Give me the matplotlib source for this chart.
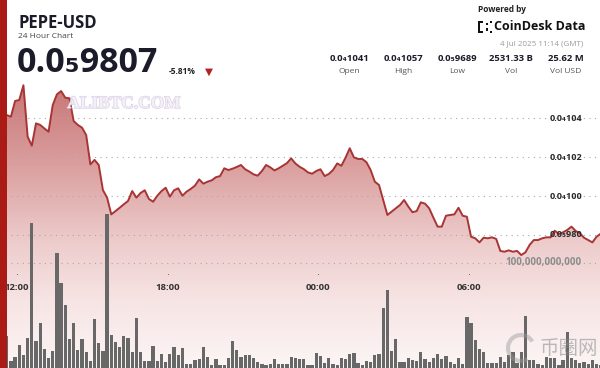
import numpy as np
import matplotlib
matplotlib.use("Agg")
import matplotlib.pyplot as plt
from matplotlib.patches import Rectangle, Arc
from matplotlib import transforms
import matplotlib.patheffects as pe

# ---------------- data ----------------
symbol = "PEPE-USD"
subtitle = "24 Hour Chart"
last_price = "0.0₅9807"
change_pct = "-5.81%"
stat_values = ["0.0₄1041", "0.0₄1057", "0.0₅9689", "2531.33 B", "25.62 M"]
stat_labels = ["Open", "High", "Low", "Vol", "Vol USD"]
timestamp = "4 Jul 2025 11:14 (GMT)"

price_ticks = [1.04e-5, 1.02e-5, 1.00e-5, 0.98e-5]
price_tick_labels = ["0.0₄104", "0.0₄102", "0.0₄100", "0.0₅980"]
vol_tick = 100.0  # billions
vol_tick_label = "100,000,000,000"
time_ticks = [0, 6, 12, 18]  # hours after 12:00
time_tick_labels = ["12:00", "18:00", "00:00", "06:00"]

# price in units of 1e-7 USD, one point every 10 minutes
price_e7 = [
    104.17, 104.08, 104.89, 104.94, 105.70, 103.06, 102.59, 103.74, 103.66, 103.48,
    103.31, 104.68, 105.23, 105.40, 105.06, 105.03, 103.86, 103.66, 103.52, 103.14,
    101.63, 101.86, 101.60, 100.31, 99.92, 99.06, 99.23, 99.40, 99.58, 99.75,
    100.26, 99.92, 100.16, 100.30, 99.85, 99.71, 100.02, 100.26, 100.43, 99.97,
    100.30, 100.40, 100.02, 100.23, 100.37, 100.54, 100.86, 100.64, 100.74, 100.81,
    100.97, 101.03, 101.43, 101.34, 101.41, 101.50, 101.60, 101.38, 101.26, 101.12,
    101.05, 101.29, 101.60, 101.48, 101.32, 101.43, 101.56, 101.70, 101.94, 101.68,
    101.51, 101.39, 101.22, 101.15, 101.29, 101.38, 101.03, 101.14, 101.34, 101.68,
    101.56, 101.98, 102.46, 101.99, 101.91, 101.91, 101.74, 101.34, 100.74, 100.57,
    99.80, 99.03, 99.20, 99.37, 99.54, 99.80, 99.46, 99.17, 99.23, 99.68,
    99.61, 99.37, 98.89, 98.43, 98.43, 98.99, 99.03, 99.06, 99.40, 98.99,
    98.94, 97.91, 97.83, 97.62, 97.86, 97.83, 97.88, 97.80, 97.18, 97.14,
    97.21, 97.14, 97.18, 96.97, 97.11, 97.49, 97.74, 97.74, 97.83, 97.88,
    97.88, 98.22, 98.05, 98.14, 98.26, 98.43, 98.21, 98.09, 97.86, 97.74,
    97.62, 97.91, 98.07,
]

# volume in billions of PEPE per 10 minutes
volume_bn = [
    30.5, 6.7, 10.5, 21.9, 12.4, 28.6, 138.0, 25.7, 42.9, 18.1,
    9.5, 16.2, 109.5, 81.0, 60.0, 27.6, 42.9, 17.1, 27.6, 15.2,
    6.7, 46.7, 23.8, 16.2, 146.7, 31.4, 24.8, 20.0, 30.5, 28.6,
    15.2, 47.6, 15.2, 6.7, 6.7, 21.0, 6.7, 13.3, 5.7, 13.3,
    20.0, 12.4, 19.0, 3.8, 3.8, 7.6, 8.6, 20.0, 10.5, 2.9,
    8.6, 2.9, 2.9, 9.5, 25.7, 17.1, 10.5, 12.4, 12.4, 9.5,
    5.7, 3.8, 2.9, 3.8, 8.6, 3.8, 3.8, 3.8, 10.5, 9.5,
    8.6, 8.6, 2.9, 2.9, 14.3, 11.4, 4.8, 9.5, 3.8, 2.9,
    9.5, 8.6, 13.3, 14.3, 4.8, 2.9, 6.7, 5.7, 12.4, 13.3,
    57.1, 74.3, 16.2, 27.6, 5.7, 5.7, 9.5, 7.6, 6.7, 15.2,
    8.6, 5.7, 9.5, 13.3, 8.6, 11.4, 5.7, 3.8, 9.5, 3.8,
    48.6, 42.9, 26.7, 18.1, 15.2, 4.8, 4.8, 4.8, 10.5, 5.7,
    12.4, 15.2, 4.8, 15.2, 49.5, 7.6, 7.6, 3.8, 2.9, 10.5,
    9.5, 9.5, 2.9, 7.6, 34.3, 9.5, 7.6, 4.8, 5.7, 3.8,
    7.6, 3.8, 2.9,
]

# ---------------- figure ----------------
W, H = 600, 368
fig = plt.figure(figsize=(6.0, 3.68), dpi=100)
fig.patch.set_facecolor("white")

FONT = ["Open Sans", "DejaVu Sans"]

n = len(price_e7)
t = -0.41 + np.arange(n) / 6.0
prices = np.array(price_e7) * 1e-7
vols = np.array(volume_bn)

px_per_h = 25.1
x0_px = 17.0
xlo, xhi = -x0_px / px_per_h, (W - x0_px) / px_per_h
# price axis: 0.0000104 at 118.3 px from top, 19.45 px per 1e-7
ylo = (104 - (H - 118.3) / 19.45) * 1e-7
yhi = (104 + 118.3 / 19.45) * 1e-7

ax = fig.add_axes([0, 0, 1, 1])
ax.set_xlim(xlo, xhi)
ax.set_ylim(ylo, yhi)
ax.axis("off")

# gradient fill under price line
stops_y = np.array([0, 80, 160, 240, 300, 368])
stops_c = np.array([
    [192, 104, 104],
    [198, 116, 116],
    [218, 156, 156],
    [237, 203, 203],
    [247, 228, 228],
    [252, 245, 245],
]) / 255.0
rows = np.arange(H)
grad = np.stack([np.interp(rows, stops_y, stops_c[:, k]) for k in range(3)], axis=-1)
grad = grad[:, None, :]
poly = ax.fill_between(t, prices, ylo, facecolor="none", edgecolor="none")
im = ax.imshow(grad, extent=[xlo, xhi, ylo, yhi], aspect="auto", origin="upper",
               zorder=1, interpolation="bilinear")
im.set_clip_path(poly.get_paths()[0], transform=ax.transData)

# grid lines
for v in price_ticks:
    ax.axhline(v, color="#a8a8a8", lw=0.8, ls=(0, (1, 4)), zorder=2)

# volume axis
ax2 = fig.add_axes([0, 0, 1, 1], sharex=ax)
ax2.patch.set_visible(False)
ax2.set_ylim(0, H / 1.05)
ax2.axis("off")
ax2.axhline(vol_tick, color="#a8a8a8", lw=0.8, ls=(0, (1, 4)), zorder=2)
ax2.bar(t, vols, width=0.78 / 6.0, color="#686868", zorder=3, linewidth=0)

# price line on top
ax3 = fig.add_axes([0, 0, 1, 1], sharex=ax)
ax3.patch.set_visible(False)
ax3.set_ylim(ylo, yhi)
ax3.axis("off")
ax3.plot(t, prices, color="#a83434", lw=1.4, zorder=4, solid_joinstyle="round")

# price tick labels
btr = transforms.blended_transform_factory(ax3.transAxes, ax3.transData)
for v, lab in zip(price_ticks, price_tick_labels):
    ax3.text(0.97, v, lab, transform=btr, ha="right", va="center", fontsize=6.6,
             fontweight="bold", color="#2a2a2a", family=FONT, zorder=6)
btr2 = transforms.blended_transform_factory(ax2.transAxes, ax2.transData)
ax2.text(0.97, vol_tick, vol_tick_label, transform=btr2, ha="right", va="center",
         fontsize=7, fontweight="bold", color="#8c8c8c", family=FONT, zorder=6)

# time labels
btx = transforms.blended_transform_factory(ax3.transData, fig.transFigure)
for tt, lab in zip(time_ticks, time_tick_labels):
    ax3.text(tt, 1 - 288 / H, lab, transform=btx, ha="center", va="center",
             fontsize=6.8, fontweight="bold", color="#333333", family=FONT, zorder=6)
    ax3.plot([tt], [1 - 274 / H], transform=btx, marker="s", ms=0.7, color="#777777",
             mew=0, clip_on=False)

# watermarks
fig.text(124 / W, 1 - 104 / H, "ALIBTC.COM", ha="center", va="center", fontsize=12.5,
         family=["Liberation Serif"], fontweight="bold", color="#f6f2fa", alpha=0.85,
         path_effects=[pe.withStroke(linewidth=1.0, foreground="#d6cce2")], zorder=10)
fig.text(569 / W, 1 - 349 / H, "币圈网", ha="center", va="center", fontsize=14,
         family=["Noto Sans CJK SC"], color="#8a8a8a", alpha=0.55, zorder=10)
arc = Arc((5.21, (H - 348) / 100.0), 0.26, 0.26, theta1=30, theta2=300,
          transform=fig.dpi_scale_trans, color="#9a9a9a", lw=3, alpha=0.45, zorder=10)
fig.add_artist(arc)

# left red bar
fig.add_artist(Rectangle((0, 0), 6.5 / W, 1, transform=fig.transFigure,
                         facecolor="#a91b14", edgecolor="none", zorder=20))

# header left
fig.text(18 / W, 1 - 23.5 / H, symbol, ha="left", va="center", fontsize=12,
         fontweight="bold", color="#1b1b2a", family=FONT)
fig.text(18 / W, 1 - 36.5 / H, subtitle, ha="left", va="center", fontsize=6,
         color="#444444", family=FONT)
fig.text(16.5 / W, 1 - 63 / H, last_price, ha="left", va="center", fontsize=24.5,
         fontweight="bold", color="#1b1b2a", family=FONT)
fig.text(169 / W, 1 - 72 / H, change_pct, ha="left", va="center", fontsize=6,
         fontweight="bold", color="#222222", family=FONT)
fig.text(208.5 / W, 1 - 72 / H, "▼", ha="center", va="center", fontsize=7.5,
         color="#b52020", family=["DejaVu Sans"])

# header right
fig.text(478 / W, 1 - 10 / H, "Powered by", ha="left", va="center", fontsize=6,
         fontweight="bold", color="#222222", family=FONT)
# logo icon
for (xx, yy, ww, hh) in [(478, 21, 2.2, 12), (478, 21, 5, 2.2), (478, 30.8, 5, 2.2),
                         (486, 23, 2.2, 2.2), (486, 28.5, 2.2, 2.2), (489.5, 21, 2.2, 2.2),
                         (489.5, 30.8, 2.2, 2.2)]:
    fig.add_artist(Rectangle((xx / W, 1 - (yy + hh) / H), ww / W, hh / H,
                             transform=fig.transFigure, facecolor="#111111",
                             edgecolor="none"))
fig.text(494 / W, 1 - 27 / H, "CoinDesk Data", ha="left", va="center", fontsize=9,
         fontweight="bold", color="#111111", family=FONT)
fig.text(583 / W, 1 - 43.5 / H, timestamp, ha="right", va="center", fontsize=5.8,
         color="#9a9a9a", family=FONT)
stat_x = [349, 403, 457, 511, 566]
for sx, v, lab in zip(stat_x, stat_values, stat_labels):
    fig.text(sx / W, 1 - 58.5 / H, v, ha="center", va="center", fontsize=6.8,
             fontweight="bold", color="#1b1b2a", family=FONT)
    fig.text(sx / W, 1 - 71.5 / H, lab, ha="center", va="center", fontsize=6,
             color="#555555", family=FONT)

fig.savefig("out.png", dpi=100, facecolor="white")
